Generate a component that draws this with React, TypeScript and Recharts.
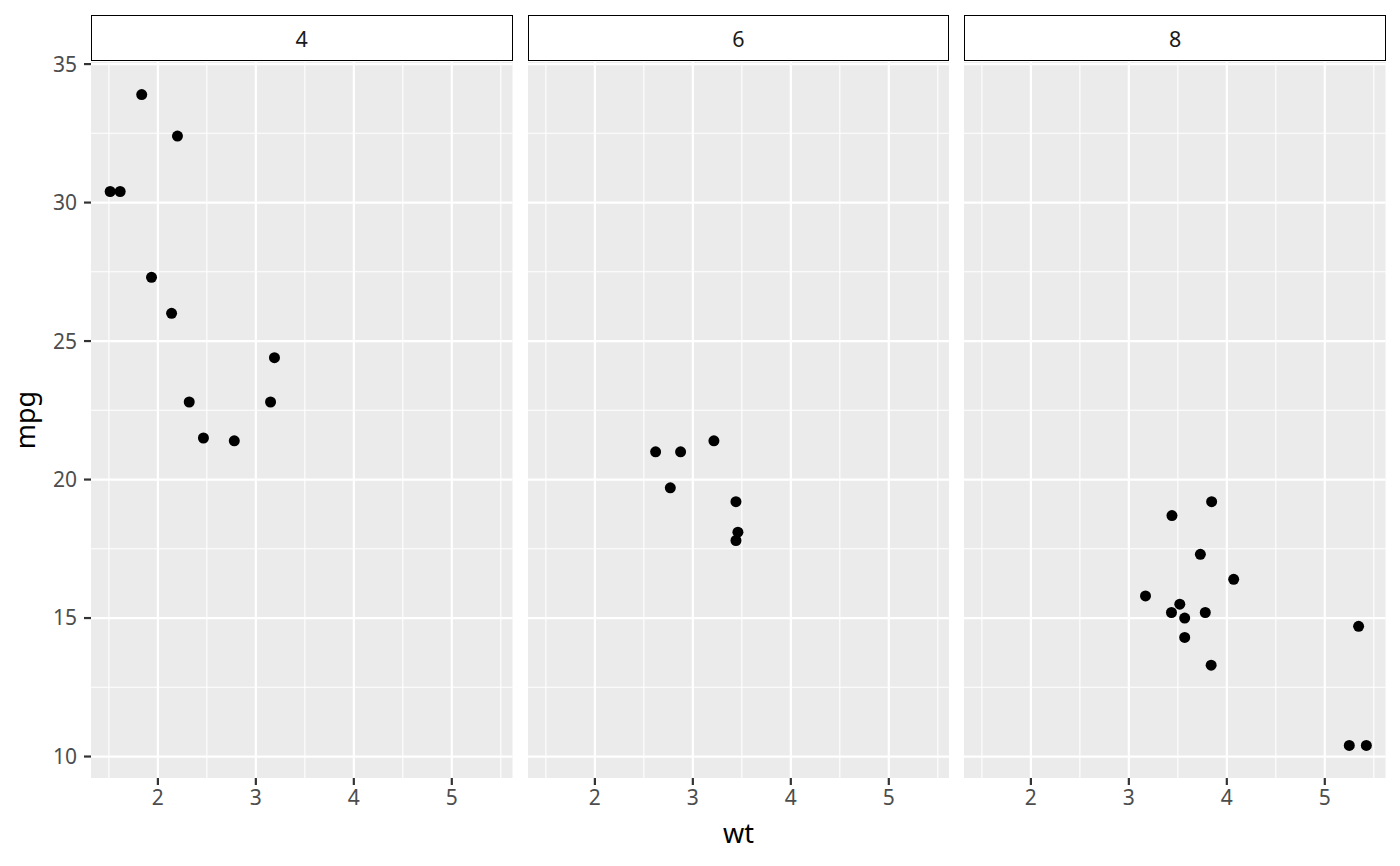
import { ScatterChart, Scatter, XAxis, YAxis, CartesianGrid } from 'recharts';

// mtcars, split by number of cylinders
const wt4 = [2.32, 3.19, 3.15, 2.2, 1.615, 1.835, 2.465, 1.935, 2.14, 1.513, 2.78];
const mpg4 = [22.8, 24.4, 22.8, 32.4, 30.4, 33.9, 21.5, 27.3, 26.0, 30.4, 21.4];

const wt6 = [2.62, 2.875, 3.215, 3.46, 3.44, 3.44, 2.77];
const mpg6 = [21.0, 21.0, 21.4, 18.1, 19.2, 17.8, 19.7];

const wt8 = [3.44, 3.57, 4.07, 3.73, 3.78, 5.25, 5.424, 5.345, 3.52, 3.435, 3.84, 3.845, 3.17, 3.57];
const mpg8 = [18.7, 14.3, 16.4, 17.3, 15.2, 10.4, 10.4, 14.7, 15.5, 15.2, 13.3, 19.2, 15.8, 15.0];

const facetLabels = ['4', '6', '8'];

const majorX = [2, 3, 4, 5];
const minorX = [1.5, 2.5, 3.5, 4.5, 5.5];
const majorY = [10, 15, 20, 25, 30, 35];
const minorY = [12.5, 17.5, 22.5, 27.5, 32.5];

const toRows = (wt: number[], mpg: number[]) => wt.map((w, i) => ({ wt: w, mpg: mpg[i] }));
const panels = [toRows(wt4, mpg4), toRows(wt6, mpg6), toRows(wt8, mpg8)];

// ggplot-style 5% expansion of the shared range
const expand = (vals: number[]): [number, number] => {
    const lo = Math.min(...vals);
    const hi = Math.max(...vals);
    const pad = (hi - lo) * 0.05;
    return [lo - pad, hi + pad];
};
const xDomain = expand([...wt4, ...wt6, ...wt8]);
const yDomain = expand([...mpg4, ...mpg6, ...mpg8]);

const PANEL_W = 421.5;
const Y_AXIS_W = 91;
const PANEL_LEFT = [91, 527.7, 964.4];
const PLOT_TOP = 62;
const PLOT_BOTTOM = 778;
const H = 866;

const Dot = (props: any) => <circle cx={props.cx} cy={props.cy} r={5.5} fill="#000" />;

function Panel({ data, left, showY }: { data: { wt: number; mpg: number }[]; left: number; showY: boolean }) {
    const yw = showY ? Y_AXIS_W : 0;
    return (
        <div style={{ position: 'absolute', left: left - yw, top: 0 }}>
            <ScatterChart
                width={PANEL_W + yw}
                height={H}
                margin={{ top: PLOT_TOP, right: 0, bottom: 0, left: 0 }}
            >
                <CartesianGrid
                    fill="#ebebeb"
                    stroke="#ffffff"
                    strokeWidth={1.1}
                    horizontalValues={minorY}
                    verticalValues={minorX}
                />
                <CartesianGrid
                    stroke="#ffffff"
                    strokeWidth={2.2}
                    horizontalValues={majorY}
                    verticalValues={majorX}
                />
                <XAxis
                    type="number"
                    dataKey="wt"
                    domain={xDomain}
                    ticks={majorX}
                    allowDataOverflow
                    axisLine={false}
                    tickLine={{ stroke: '#333333', strokeWidth: 2.2 }}
                    tickSize={7}
                    tickMargin={5}
                    tick={{ fill: '#4d4d4d', fontSize: 21 }}
                    height={H - PLOT_BOTTOM}
                />
                <YAxis
                    type="number"
                    dataKey="mpg"
                    domain={yDomain}
                    ticks={majorY}
                    allowDataOverflow
                    hide={!showY}
                    width={Y_AXIS_W}
                    axisLine={false}
                    tickLine={{ stroke: '#333333', strokeWidth: 2.2 }}
                    tickSize={7}
                    tickMargin={7}
                    tick={{ fill: '#4d4d4d', fontSize: 21 }}
                />
                <Scatter data={data} isAnimationActive={false} shape={Dot} />
            </ScatterChart>
        </div>
    );
}

export default function App() {
    return (
        <div style={{ position: 'relative', width: 1400, height: H, fontFamily: '"Noto Sans", sans-serif', background: '#fff' }}>
            <style>{'body { margin: 0; }'}</style>
            {panels.map((rows, i) => (
                <Panel key={facetLabels[i]} data={rows} left={PANEL_LEFT[i]} showY={i === 0} />
            ))}
            {facetLabels.map((lab, i) => (
                <div
                    key={lab}
                    style={{
                        position: 'absolute',
                        left: PANEL_LEFT[i],
                        top: 15,
                        width: PANEL_W,
                        height: 46,
                        boxSizing: 'border-box',
                        border: '1.3px solid #000',
                        background: '#fff',
                        color: '#1a1a1a',
                        fontSize: 21.5,
                        lineHeight: 1,
                        paddingTop: 11.6,
                        textAlign: 'center',
                    }}
                >
                    {lab}
                </div>
            ))}
            <div
                style={{
                    position: 'absolute',
                    left: PANEL_LEFT[0],
                    top: 818.7,
                    width: PANEL_LEFT[2] + PANEL_W - PANEL_LEFT[0],
                    textAlign: 'center',
                    fontSize: 27,
                    color: '#000',
                    lineHeight: 1,
                }}
            >
                wt
            </div>
            <div
                style={{
                    position: 'absolute',
                    left: 23.5,
                    top: (PLOT_TOP + PLOT_BOTTOM) / 2,
                    transform: 'translate(-50%, -50%) rotate(-90deg)',
                    fontSize: 27,
                    color: '#000',
                    lineHeight: 1,
                    whiteSpace: 'nowrap',
                }}
            >
                mpg
            </div>
        </div>
    );
}
